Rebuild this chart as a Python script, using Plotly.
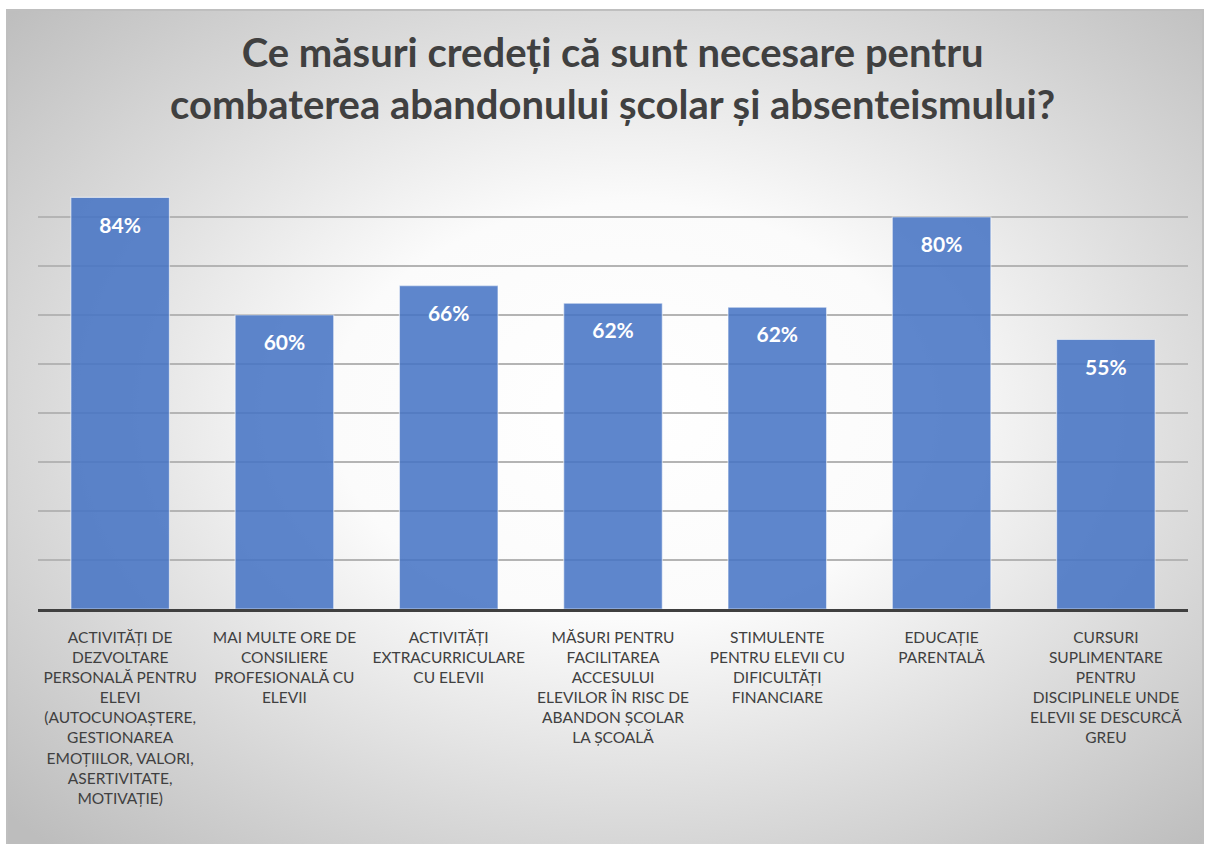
import base64
import plotly.graph_objects as go

# ---- data ----
categories = [
    "ACTIVITĂȚI DE<br>DEZVOLTARE<br>PERSONALĂ PENTRU<br>ELEVI<br>(AUTOCUNOAȘTERE,<br>GESTIONAREA<br>EMOȚIILOR, VALORI,<br>ASERTIVITATE,<br>MOTIVAȚIE)",
    "MAI MULTE ORE DE<br>CONSILIERE<br>PROFESIONALĂ CU<br>ELEVII",
    "ACTIVITĂȚI<br>EXTRACURRICULARE<br>CU ELEVII",
    "MĂSURI PENTRU<br>FACILITAREA<br>ACCESULUI<br>ELEVILOR ÎN RISC DE<br>ABANDON ȘCOLAR<br>LA ȘCOALĂ",
    "STIMULENTE<br>PENTRU ELEVII CU<br>DIFICULTĂȚI<br>FINANCIARE",
    "EDUCAȚIE<br>PARENTALĂ",
    "CURSURI<br>SUPLIMENTARE<br>PENTRU<br>DISCIPLINELE UNDE<br>ELEVII SE DESCURCĂ<br>GREU",
]
values = [84, 60, 66, 62.4, 61.6, 80, 55]
title_text = "Ce măsuri credeți că sunt necesare pentru<br>combaterea abandonului școlar și absenteismului?"

# ---- layout geometry ----
W, H = 1206, 844
ML, MR, MT, MB = 38, 18, 168, 235
pw = W - ML - MR
ph = H - MT - MB
label_offset = 6.1  # data units below bar top for the value labels

def px_to_paper_x(px):
    return (px - ML) / pw

def px_to_paper_y(py):
    return (H - MB - py) / ph

svg = (
    '<svg xmlns="http://www.w3.org/2000/svg" width="1196" height="834" preserveAspectRatio="none">'
    '<defs><radialGradient id="g" cx="52%" cy="48%" r="71%">'
    '<stop offset="0%" stop-color="#ffffff"/>'
    '<stop offset="35%" stop-color="#fbfbfb"/>'
    '<stop offset="70%" stop-color="#d9d9d9"/>'
    '<stop offset="100%" stop-color="#bdbdbd"/>'
    '</radialGradient></defs>'
    '<rect width="1196" height="834" fill="url(#g)"/></svg>'
)
svg_uri = "data:image/svg+xml;base64," + base64.b64encode(svg.encode()).decode()

font_family = "Lato, 'Open Sans', sans-serif"

fig = go.Figure()
fig.add_trace(go.Bar(
    x=categories,
    y=values,
    marker=dict(color="rgba(68,114,196,0.86)", line=dict(color="rgba(255,255,255,0.55)", width=1.2)),
    hoverinfo="skip",
))
fig.add_trace(go.Scatter(
    x=categories,
    y=[v - label_offset for v in values],
    mode="text",
    text=[f"{round(v)}%" for v in values],
    textposition="middle center",
    textfont=dict(family=font_family, size=21, color="white", weight="bold"),
    hoverinfo="skip",
))

x0p, x1p = px_to_paper_x(7), px_to_paper_x(1203)
y1p, y0p = px_to_paper_y(10), px_to_paper_y(H + 2)

fig.update_layout(
    width=W, height=H,
    margin=dict(l=ML, r=MR, t=MT, b=MB),
    paper_bgcolor="white",
    plot_bgcolor="rgba(0,0,0,0)",
    showlegend=False,
    bargap=0.4,
    title=dict(
        text=title_text,
        x=0.508, xanchor="center",
        y=0.921, yanchor="middle",
        font=dict(family=font_family, size=40, color="#404040", weight="bold"),
    ),
    images=[dict(
        source=svg_uri, xref="paper", yref="paper",
        x=x0p, y=y1p, sizex=x1p - x0p, sizey=y1p - y0p,
        xanchor="left", yanchor="top", sizing="stretch", layer="below",
    )],
    shapes=[dict(
        type="rect", xref="paper", yref="paper",
        x0=x0p, x1=x1p, y0=y0p, y1=y1p,
        line=dict(color="#bfbfbf", width=2), layer="below",
    )],
    xaxis=dict(
        showline=True, linecolor="#404040", linewidth=3,
        showgrid=False, ticks="", ticklabelstandoff=12,
        tickfont=dict(family=font_family, size=15.5, color="#404040"),
        tickangle=0,
    ),
    yaxis=dict(
        range=[0, 90], dtick=10, showticklabels=False,
        showgrid=True, gridcolor="#b4b4b4", gridwidth=1.5,
        zeroline=False, showline=False,
    ),
)

fig.write_html(
    "out.html",
    config={"displayModeBar": False},
    post_script="document.body.style.margin='0';document.body.style.overflow='hidden';",
)
